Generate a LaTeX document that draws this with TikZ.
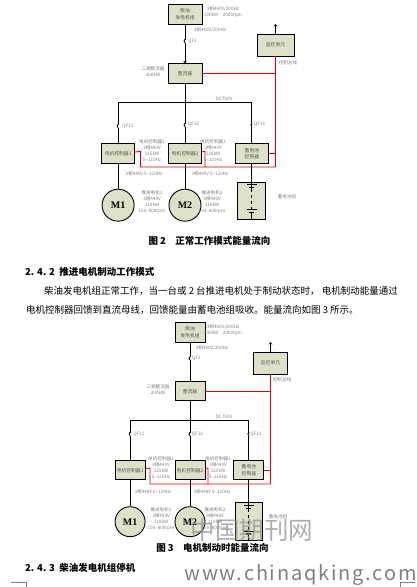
\documentclass[tikz,border=0pt]{standalone}
\usepackage{fontspec}
\setmainfont{Noto Sans CJK SC}
\newfontfamily\motorfont{Liberation Serif}
\usepackage{xcolor}
\usetikzlibrary{positioning, arrows.meta, calc}
\definecolor{boxgreen}{HTML}{DDE1C9}

\begin{document}
\begin{tikzpicture}[
  x=1pt, y=-1pt,
  block/.style={
    rectangle,
    draw,
    line width=0.9pt,
    fill=boxgreen,
    align=center,
    inner sep=0pt,
    text=black!65,
    font=\fontsize{4.8}{6.5}\selectfont
  },
  motor/.style={
    circle,
    draw,
    line width=0.9pt,
    fill=boxgreen,
    minimum size=32pt,
    inner sep=0pt,
    font=\fontsize{10}{10}\motorfont\bfseries
  },
  note/.style={
    align=center,
    inner sep=0pt,
    text=black!50,
    font=\fontsize{4.6}{6}\selectfont
  },
  body/.style={
    anchor=west,
    inner sep=0pt,
    font=\fontsize{9.5}{11}\selectfont
  },
  heading/.style={
    anchor=west,
    inner sep=0pt,
    font=\fontsize{9.5}{11}\selectfont\bfseries
  },
  qf/.style={
    rectangle,
    fill=white,
    minimum size=3pt,
    inner sep=0pt
  },
  wire/.style={line width=0.9pt},
  bus/.style={line width=0.9pt, draw=red!90!black},
  arrow/.style={-{Stealth[length=2.5pt, width=3.5pt]}, line width=0.9pt}
]
  \useasboundingbox (0,0) rectangle (417,587);

  % Figure 2: nodes
  \node (udiesel) [block, minimum width=34pt, minimum height=20pt] at (185,14) {柴油\\发电机组};
  \node (urect) [block, minimum width=34pt, minimum height=20pt, below=39pt of udiesel] {整流器};
  \node (umon) [block, minimum width=37pt, minimum height=22pt] at (275.5,45) {监控单元};
  \node (uctrlb) [block, minimum width=33pt, minimum height=19.5pt, below=59pt of urect] {电机控制器2};
  \node (uctrla) [block, minimum width=33pt, minimum height=19.5pt, left=33pt of uctrlb] {电机控制器1};
  \node (uctrlc) [block, minimum width=33pt, minimum height=19.5pt, right=33pt of uctrlb] {蓄电池\\控制器};
  \node (umotorb) [motor, below=25pt of uctrlb] {M2};
  \node (umotora) [motor, below=25pt of uctrla] {M1};
  \node (ubatt) [block, minimum width=28pt, minimum height=37pt, below=18pt of uctrlc] {};
  \coordinate (utop) at (umon |- 0,24);
  \coordinate (ubus) at (185,102);
  \coordinate (ubusa) at (uctrla |- ubus);
  \coordinate (ubusc) at (uctrlc |- ubus);
  \coordinate (uctl) at (umon |- urect);
  \coordinate (ured) at (umon |- 0,167);
  \coordinate (uredc) at (umon |- uctrlc);
  \coordinate (ureda) at (140.5,151.5);
  \coordinate (uredb) at (205,151.5);

  % Figure 2: connectors
  \draw [arrow] (udiesel) -- (urect);
  \draw [arrow] (umon) -- (utop);
  \draw [wire] (urect) -- (uctrlb);
  \draw [wire] (ubusa) -- (ubusc);
  \draw [wire] (ubusa) -- (uctrla);
  \draw [wire] (ubusc) -- (uctrlc);
  \draw [wire] (uctrla) -- (umotora);
  \draw [wire] (uctrlb) -- (umotorb);
  \draw [wire] (uctrlc) -- (ubatt);
  \draw [bus] (urect) -- (uctl);
  \draw [bus] (umon) -- (ured);
  \draw [bus] (uctrla) -- (ureda) -- (ureda |- ured) -- (ured);
  \draw [bus] (uctrlb) -- (uredb) -- (uredb |- ured);
  \draw [bus] (uctrlc) -- (uredc);

  % Figure 2: breakers
  \node (uqf) [qf] at (185,41) {};
  \node (uqfa) [qf] at (uctrla |- 0,126) {};
  \node (uqfb) [qf] at (uctrlb |- 0,125) {};
  \node (uqfc) [qf] at (uctrlc |- 0,125) {};

  % Figure 2: labels
  \node (uspec) [note] at (223,12) {3相460V/200Hz\\200kW\quad 2000rpm};
  \node (uline) [note] at (210,30) {3相460V/200Hz};
  \node (uqfl) [note] at (192.5,41) {QF1};
  \node (uqfal) [note] at (128,126) {QF11};
  \node (uqfbl) [note] at (193.5,124) {QF12};
  \node (uqfcl) [note] at (259.5,124) {QF13};
  \node (urectl) [note] at (153,72) {三相整流器\\200kW};
  \node (ucan) [note] at (288,63) {控制总线};
  \node (udc) [note] at (224,99) {DC750V};
  \node (uctrlal) [note] at (152,151) {电机控制器1\\3相440V\\125kW\\5--120Hz};
  \node (uctrlbl) [note] at (213,151) {电机控制器1\\3相440V\\125kW\\5--120Hz};
  \node (uoutal) [note] at (144,174) {3相440V 5--120Hz};
  \node (uoutbl) [note] at (210,174) {3相440V 5--120Hz};
  \node (umotoral) [note] at (152,202) {推进电机1\\3相440V\\110kW\\100--800rpm};
  \node (umotorbl) [note] at (212,202) {推进电机2\\3相440V\\110kW\\100--800rpm};
  \node (ubattl) [note] at (287,197) {蓄电池组};

  % Figure 3: nodes
  \node (ldiesel) [block, minimum width=30pt, minimum height=20pt] at (190,332) {柴油\\发电机组};
  \node (lrect) [block, minimum width=30pt, minimum height=19pt, below=39pt of ldiesel] {整流器};
  \node (lmon) [block, minimum width=34pt, minimum height=22pt] at (270.5,363) {监控单元};
  \node (lctrlb) [block, minimum width=30pt, minimum height=19pt, below=59pt of lrect] {电机控制器2};
  \node (lctrla) [block, minimum width=30pt, minimum height=19pt, left=29pt of lctrlb] {电机控制器1};
  \node (lctrlc) [block, minimum width=30pt, minimum height=19pt, right=28pt of lctrlb] {蓄电池\\控制器};
  \node (lmotorb) [motor, minimum size=30pt, below=26pt of lctrlb] {M2};
  \node (lmotora) [motor, minimum size=30pt, below=26pt of lctrla] {M1};
  \node (lbatt) [block, minimum width=27pt, minimum height=38pt, below=22pt of lctrlc] {};
  \coordinate (ltop) at (lmon |- 0,342);
  \coordinate (lbus) at (190,420);
  \coordinate (lbusa) at (lctrla |- lbus);
  \coordinate (lbusc) at (lctrlc |- lbus);
  \coordinate (lctl) at (lmon |- lrect);
  \coordinate (lred) at (lmon |- 0,484);
  \coordinate (lredc) at (lmon |- lctrlc);
  \coordinate (lreda) at (150,468);
  \coordinate (lredb) at (208,468);

  % Figure 3: connectors
  \draw [wire] (ldiesel) -- (lrect);
  \draw [arrow] (lmon) -- (ltop);
  \draw [wire] (lrect) -- (lctrlb);
  \draw [wire] (lbusa) -- (lbusc);
  \draw [wire] (lbusa) -- (lctrla);
  \draw [wire] (lbusc) -- (lctrlc);
  \draw [wire] (lctrla) -- (lmotora);
  \draw [wire] (lctrlb) -- (lmotorb);
  \draw [wire] (lctrlc) -- (lbatt);
  \draw [bus] (lrect) -- (lctl);
  \draw [bus] (lmon) -- (lred);
  \draw [bus] (lctrla) -- (lreda) -- (lreda |- lred) -- (lred);
  \draw [bus] (lctrlb) -- (lredb) -- (lredb |- lred);
  \draw [bus] (lctrlc) -- (lredc);

  % Figure 3: breakers
  \node (lqf) [qf] at (190,358.5) {};
  \node (lqfa) [qf] at (lctrla |- 0,434) {};
  \node (lqfb) [qf] at (lctrlb |- 0,434) {};
  \node (lqfc) [qf] at (lctrlc |- 0,434) {};

  % Figure 3: labels
  \node (lspec) [note] at (223,330) {3相460V/200Hz\\200kW\quad 2000rpm};
  \node (lline) [note] at (212,348) {3相460V/200Hz};
  \node (lqfl) [note] at (196.5,358.5) {QF1};
  \node (lqfal) [note] at (139,434) {QF11};
  \node (lqfbl) [note] at (197.5,434) {QF12};
  \node (lqfcl) [note] at (256,434) {QF13};
  \node (lrectl) [note] at (158,390) {三相整流器\\200kW};
  \node (lcan) [note] at (282,380) {控制总线};
  \node (ldc) [note] at (224,417) {DC750V};
  \node (lctrlal) [note] at (161,468) {电机控制器1\\3相440V\\125kW\\5--120Hz};
  \node (lctrlbl) [note] at (218,468) {电机控制器1\\3相440V\\125kW\\5--120Hz};
  \node (loutal) [note] at (153,492) {3相440V 5--120Hz};
  \node (loutbl) [note] at (212,492) {3相440V 5--120Hz};
  \node (lmotoral) [note] at (161,519) {推进电机1\\3相440V\\110kW\\100--800rpm};
  \node (lmotorbl) [note] at (215,519) {推进电机2\\3相440V\\110kW\\100--800rpm};
  \node (lbattl) [note] at (278,517) {蓄电池组};

  % Breaker bumps and battery cells
  \foreach \n in {uqf,uqfa,uqfb,uqfc,lqf,lqfa,lqfb,lqfc}
    \draw [wire] (\n.south) to[bend left=70] (\n.north);
  \foreach \n in {ubatt,lbatt} {
    \draw [wire] (\n.north) -- ++(0,7) ($(\n.south)+(0,-7)$) -- (\n.south);
    \draw [wire, dashed] ($(\n.north)+(0,7)$) -- ($(\n.south)+(0,-7)$);
    \draw [wire] ($(\n.north)+(-5,3)$) -- ($(\n.north)+(5,3)$);
    \draw [line width=1.4pt] ($(\n.north)+(-2.5,6)$) -- ($(\n.north)+(2.5,6)$);
    \draw [wire] ($(\n.south)+(-5,-10)$) -- ($(\n.south)+(5,-10)$);
    \draw [line width=1.4pt] ($(\n.south)+(-2.5,-7)$) -- ($(\n.south)+(2.5,-7)$);
  }

  % Page text
  \node (capa) [heading, anchor=center] at (209.5,241) {图 2\quad 正常工作模式能量流向};
  \node (heada) [heading] at (25,272) {2. 4. 2\ \ 推进电机制动工作模式};
  \node (linea) [body] at (44,291) {柴油发电机组正常工作，当一台或 2 台推进电机处于制动状态时， 电机制动能量通过};
  \node (lineb) [body] at (26,310) {电机控制器回馈到直流母线，回馈能量由蓄电池组吸收。能量流向如图 3 所示。};
  \node (capb) [heading, anchor=center] at (212.5,548) {图 3\quad 电机制动时能量流向};
  \node (headb) [heading] at (25,568) {2. 4. 3\ \ 柴油发电机组停机};

  % Watermark and crop marks
  \node (markcn) [inner sep=0pt, text=black!45, opacity=0.7, font=\fontsize{24.5}{24.5}\selectfont] at (252,530) {中国期刊网};
  \node (markurl) [inner sep=0pt, text=black!50, font=\fontsize{20}{20}\selectfont\addfontfeature{LetterSpace=9}, anchor=east] at (417,575) {www.chinaqking.com};
  \coordinate (cropa) at (11,582);
  \coordinate (cropb) at (26,582);
  \coordinate (cropc) at (26,587);
  \coordinate (cropd) at (400,587);
  \coordinate (crope) at (400,582);
  \coordinate (cropf) at (415,582);
  \draw [black!50, line width=0.4pt] (cropa) -- (cropb) -- (cropc);
  \draw [black!50, line width=0.4pt] (cropd) -- (crope) -- (cropf);
\end{tikzpicture}
\end{document}
